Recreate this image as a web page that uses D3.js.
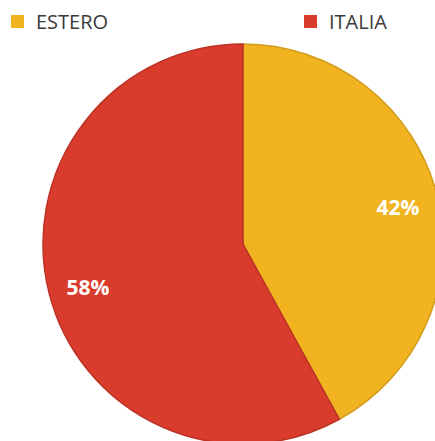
<!DOCTYPE html>
<html><head><meta charset="utf-8">
<script src="https://cdn.jsdelivr.net/npm/d3@7"></script>
<style>html,body{margin:0;padding:0;background:#fff;overflow:hidden}</style>
</head><body>
<svg id="c" width="435" height="441"></svg>
<script>
const categories = ["ESTERO", "ITALIA"];
const values = [42, 58];
const labels = ["42%", "58%"];
const colors = ["#f1b31f", "#d93b2c"];

const svg = d3.select("#c");
const cx = 243, cy = 244, r = 200;
const pie = d3.pie().sort(null).value(d => d.v);
const data = pie(categories.map((c, i) => ({c, v: values[i], l: labels[i], col: colors[i]})));
const arc = d3.arc().innerRadius(0).outerRadius(r);
const g = svg.append("g").attr("transform", `translate(${cx},${cy})`);
g.selectAll("path").data(data).join("path")
  .attr("d", arc).attr("fill", d => d.data.col)
  .attr("stroke", d => d3.color(d.data.col).darker(0.4)).attr("stroke-width", 1.5);

const labelPos = [[155, -37], [-155, 43]];
g.selectAll("text.pct").data(data).join("text").attr("class", "pct")
  .attr("x", (d, i) => labelPos[i][0]).attr("y", (d, i) => labelPos[i][1])
  .attr("text-anchor", "middle").attr("dominant-baseline", "central")
  .attr("fill", "#fff").attr("font-family", "'Open Sans', sans-serif")
  .attr("font-weight", "bold").attr("font-size", 21)
  .text(d => d.data.l);

const legX = [11, 304];
const leg = svg.selectAll("g.leg").data(categories).join("g").attr("class", "leg")
  .attr("transform", (d, i) => `translate(${legX[i]},15)`);
leg.append("rect").attr("width", 13).attr("height", 13).attr("fill", (d, i) => colors[i]);
leg.append("text").attr("x", 25).attr("y", 6.5).attr("dominant-baseline", "central")
  .attr("font-family", "'Open Sans', sans-serif").attr("font-size", 20).attr("fill", "#3a3a3a")
  .text(d => d);
</script>
</body></html>
